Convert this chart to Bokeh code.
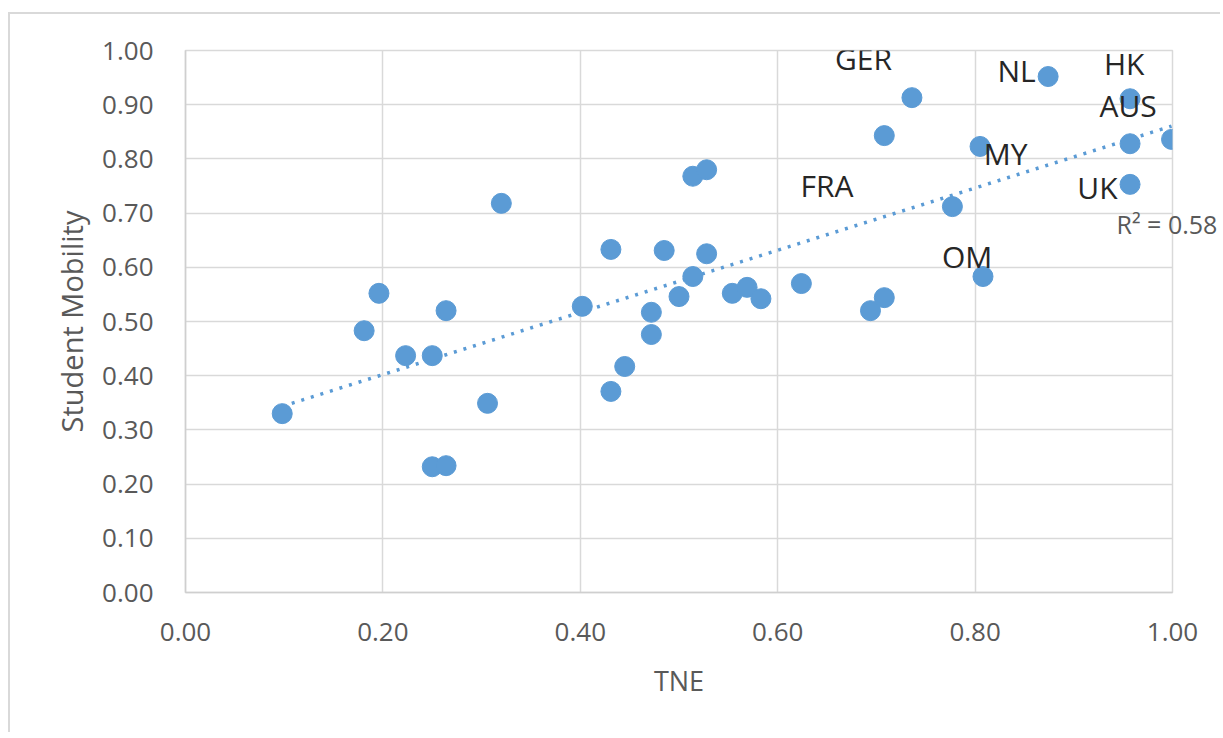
import numpy as np
from bokeh.plotting import figure
from bokeh.models import (ColumnDataSource, LabelSet, FixedTicker, PrintfTickFormatter,
                          Range1d, LinearAxis)
from bokeh.core.properties import value
from bokeh.embed import file_html
from bokeh.resources import INLINE

# ---- data ----
tne = [0.098, 0.181, 0.196, 0.223, 0.250, 0.264, 0.250, 0.264, 0.306, 0.320,
       0.402, 0.431, 0.431, 0.445, 0.472, 0.472, 0.485, 0.500, 0.514, 0.528,
       0.514, 0.528, 0.554, 0.569, 0.583, 0.624, 0.694, 0.708, 0.708, 0.736,
       0.777, 0.805, 0.808, 0.874, 0.957, 0.957, 0.957, 0.999]
mobility = [0.330, 0.483, 0.552, 0.437, 0.437, 0.520, 0.232, 0.234, 0.349, 0.718,
            0.528, 0.633, 0.371, 0.417, 0.517, 0.476, 0.631, 0.546, 0.583, 0.625,
            0.768, 0.780, 0.552, 0.563, 0.542, 0.570, 0.520, 0.544, 0.843, 0.913,
            0.712, 0.823, 0.583, 0.952, 0.911, 0.828, 0.753, 0.836]

label_names = ["GER", "NL", "HK", "AUS", "MY", "FRA", "UK", "OM"]
label_x = [0.687, 0.842, 0.951, 0.955, 0.831, 0.650, 0.924, 0.792]
label_y = [0.985, 0.963, 0.976, 0.898, 0.810, 0.751, 0.747, 0.620]
r2_text = "R² = 0.58"
r2_y = 0.680

x_ticks = [0.0, 0.2, 0.4, 0.6, 0.8, 1.0]
y_ticks = [0.0, 0.1, 0.2, 0.3, 0.4, 0.5, 0.6, 0.7, 0.8, 0.9, 1.0]

# ---- trendline (least squares on the data) ----
slope, intercept = np.polyfit(tne, mobility, 1)
fit_x = [min(tne), max(tne)]
fit_y = [slope * v + intercept for v in fit_x]

FONT = "Open Sans"
GRAY = "#595959"
GRID = "#d9d9d9"
BLUE = "#5B9BD5"

p = figure(frame_width=987, frame_height=542,
           min_border_left=175, min_border_right=48,
           min_border_top=36, min_border_bottom=140,
           x_range=Range1d(0, 1), y_range=Range1d(0, 1),
           output_backend="svg", toolbar_location=None, tools="")
p.styles = {"border-top": "2px solid #d9d9d9", "border-left": "2px solid #d9d9d9",
            "margin-top": "12px", "margin-left": "8px"}

p.xaxis.ticker = FixedTicker(ticks=x_ticks)
p.yaxis.ticker = FixedTicker(ticks=y_ticks)
p.xaxis.formatter = PrintfTickFormatter(format="%.2f")
p.yaxis.formatter = PrintfTickFormatter(format="%.2f")
p.axis.major_tick_line_color = None
p.axis.minor_tick_line_color = None
p.axis.axis_line_color = "#cfcfcf"
p.axis.axis_line_width = 1.5
p.axis.major_label_text_font = FONT
p.axis.major_label_text_font_size = "26px"
p.axis.major_label_text_color = GRAY
p.yaxis.major_label_standoff = 26
p.xaxis.major_label_standoff = 24
p.axis.axis_label_text_font = FONT
p.axis.axis_label_text_font_style = "normal"
p.axis.axis_label_text_color = GRAY
p.xaxis.axis_label_text_font_size = "27px"
p.yaxis.axis_label_text_font_size = "29px"
p.xaxis.axis_label = "TNE"
p.yaxis.axis_label = "Student Mobility"
p.xaxis.axis_label_standoff = 18
p.yaxis.axis_label_standoff = 8

p.grid.grid_line_color = GRID
p.grid.grid_line_width = 1.5
p.outline_line_color = GRID
p.outline_line_width = 1.5

# R² text of the trendline, drawn as a right-side axis label so it may cross the frame edge
r2_axis = LinearAxis(ticker=FixedTicker(ticks=[r2_y]),
                     major_label_overrides={r2_y: r2_text},
                     major_label_standoff=-62,
                     axis_line_color=None, major_tick_line_color=None,
                     minor_tick_line_color=None,
                     major_label_text_font=FONT, major_label_text_font_size="25px",
                     major_label_text_color=GRAY)
p.add_layout(r2_axis, "right")

p.line(fit_x, fit_y, line_color=BLUE, line_width=3.5, line_dash="3 7")
p.scatter(tne, mobility, size=20, fill_color=BLUE, line_color=BLUE)

src = ColumnDataSource(dict(x=label_x, y=label_y, t=label_names))
p.add_layout(LabelSet(x="x", y="y", text="t", source=src,
                      text_align="center", text_baseline="middle",
                      text_font=value(FONT), text_font_size=value("30px"),
                      text_color="#262626"))

open("out.html", "w").write(file_html(p, INLINE))
